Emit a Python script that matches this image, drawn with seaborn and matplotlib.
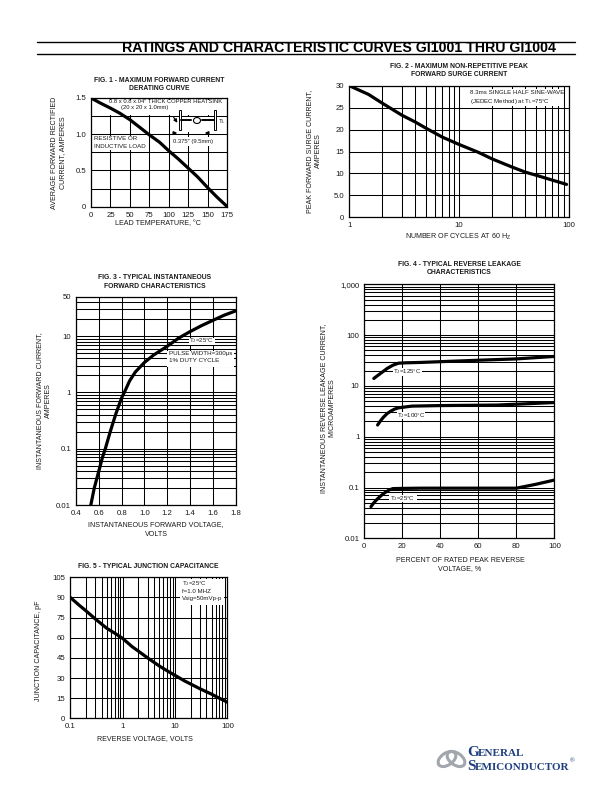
import matplotlib
matplotlib.use("Agg")
import matplotlib.pyplot as plt
import seaborn as sns
from matplotlib.patches import Ellipse, Rectangle
from matplotlib.ticker import LogLocator, NullFormatter

# fig 1
temp = [0, 12, 25, 37, 50, 62, 75, 88, 100, 112, 125, 137, 150, 162, 175]
amps_avg = [1.5, 1.43, 1.36, 1.29, 1.2, 1.1, 0.99, 0.89, 0.77, 0.66, 0.53, 0.41, 0.26, 0.13, 0]
# fig 2
cycles = [1, 1.5, 2, 3, 4, 5, 7, 10, 15, 20, 30, 40, 50, 70, 95]
amps_surge = [30, 28, 26, 23.3, 21.7, 20.3, 18.3, 16.6, 14.8, 13.3, 11.5, 10.3, 9.6, 8.5, 7.5]
# fig 3
volts = [0.53, 0.56, 0.6, 0.63, 0.657, 0.7, 0.75, 0.8, 0.824, 0.87, 0.92, 1.0, 1.08, 1.2, 1.3, 1.4, 1.5, 1.6, 1.7, 1.8]
amps_fwd = [0.01, 0.02, 0.04, 0.068, 0.1, 0.2, 0.42, 0.8, 1.0, 1.6, 2.3, 3.4, 4.6, 6.6, 9.2, 12, 15.3, 19, 23.5, 28]
# fig 4
pct_125 = [5, 8, 12, 15, 18, 22, 30, 60, 80, 100]
leak_125 = [14, 17, 22, 25.5, 28, 28.5, 29, 32, 34, 38]
pct_100 = [7, 8.5, 10, 12, 14, 16, 18, 25, 40, 70, 100]
leak_100 = [1.7, 2.05, 2.4, 2.85, 3.2, 3.5, 3.7, 4, 4.1, 4.2, 4.7]
pct_25 = [3.5, 5, 7, 9, 11, 13, 15, 20, 30, 80, 90, 100]
leak_25 = [0.042, 0.05, 0.06, 0.07, 0.08, 0.089, 0.095, 0.096, 0.097, 0.097, 0.115, 0.14]
# fig 5
rev_volts = [0.1, 0.15, 0.2, 0.3, 0.5, 0.7, 1, 1.5, 2, 3, 5, 7, 10, 15, 20, 30, 50, 70, 100]
cap = [90, 84, 80, 74, 67, 63.5, 59.5, 53.5, 50, 45, 39, 35.5, 32, 28, 25.5, 22, 18, 15, 12]

sns.set_theme(style="white")
plt.rcParams["font.family"] = ["Liberation Sans", "DejaVu Sans"]
plt.rcParams["mathtext.default"] = "regular"

W, H = 612, 792
INK = "#1a1a1a"
TICK = 5.6
LABEL = 5.1
NOTE = 4.4
fig = plt.figure(figsize=(W / 100, H / 100), dpi=100, facecolor="white")

# page overlay, in pixels
page = fig.add_axes([0, 0, 1, 1], zorder=5)
page.set_xlim(0, W)
page.set_ylim(H, 0)
page.axis("off")


def make_axes(left, top, right, bottom):
    ax = fig.add_axes([left / W, 1 - bottom / H, (right - left) / W, (bottom - top) / H])
    ax.set_axisbelow(True)
    for s in ax.spines.values():
        s.set_color("black")
        s.set_linewidth(0.9)
    ax.tick_params(which="both", length=0, labelsize=TICK, labelcolor=INK, pad=3.5)
    ax.grid(True, which="both", color="black", linewidth=0.75)
    return ax


def curve(ax, x, y):
    sns.lineplot(x=x, y=y, ax=ax, color="black", linewidth=2.3, zorder=4,
                 estimator=None, sort=False, legend=False, solid_joinstyle="round")
    ax.set_xlabel("")
    ax.set_ylabel("")


def white_box(ax, left, top, right, bottom):
    ax.add_artist(Rectangle((left, top), right - left, bottom - top, facecolor="white",
                            edgecolor="none", transform=page.transData, zorder=2))


def label(x, y, s, size=LABEL, weight="normal", rotation=0, ha="center", color=INK):
    page.text(x, y, s, fontsize=size, fontweight=weight, rotation=rotation,
              ha=ha, va="center", color=color)


def log_minor(axis):
    axis.set_minor_locator(LogLocator(base=10, subs=range(2, 10), numticks=20))
    axis.set_minor_formatter(NullFormatter())


# header
page.plot([37, 575], [41.5, 41.5], color="black", lw=1.0)
page.plot([37, 575], [54, 54], color="black", lw=1.0)
label(339, 47.5, "RATINGS AND CHARACTERISTIC CURVES GI1001 THRU GI1004", size=10.2, weight="bold", color="black")

# FIG 1
ax1 = make_axes(91, 98, 227.3, 206.7)
curve(ax1, temp, amps_avg)
ax1.set_xlim(0, 175)
ax1.set_ylim(0, 1.5)
ax1.set_xticks(range(0, 176, 25))
ax1.set_yticks([0, 0.25, 0.5, 0.75, 1.0, 1.25, 1.5])
ax1.set_yticklabels(["0", "", "0.5", "", "1.0", "", "1.5"])
white_box(ax1, 109, 99.5, 226, 114.5)
white_box(ax1, 173, 117, 226, 132)
white_box(ax1, 173, 136.5, 226, 146)
white_box(ax1, 93, 135.5, 146, 150)
label(159, 80, "FIG. 1 - MAXIMUM FORWARD CURRENT", size=4.9, weight="bold")
label(159, 88, "DERATING CURVE", size=4.9, weight="bold")
label(54, 153, "AVERAGE FORWARD RECTIFIED", rotation=90)
label(62.5, 153, "CURRENT, AMPERES", rotation=90)
label(158, 224, "LEAD TEMPERATURE, °C")
label(166, 101.5, "0.8 x 0.8 x.04\" THICK COPPER HEATSINK", size=4.2)
label(121, 107, "(20 x 20 x 1.0mm)", size=4.2, ha="left")
label(94, 139, "RESISTIVE OR", size=4.45, ha="left")
label(94, 147, "INDUCTIVE LOAD", size=4.45, ha="left")
label(173, 141.5, "0.375\" (9.5mm)", size=4.2, ha="left")
label(226, 122, "T$_L$", size=NOTE, ha="right")
# mounting sketch
for px in (180, 215):
    page.add_patch(Rectangle((px - 1, 110), 2, 20, facecolor="white", edgecolor="black", lw=0.7))
page.plot([181, 191], [120, 120], color="black", lw=1.4)
page.plot([202, 214], [120, 120], color="black", lw=1.4)
page.add_patch(Ellipse((197, 120.5), 7, 6, facecolor="white", edgecolor="black", lw=0.8))
page.annotate("", xy=(179, 125), xytext=(172, 115), arrowprops=dict(arrowstyle="-|>", color="black", lw=0.8, mutation_scale=5))
page.annotate("", xy=(180, 133), xytext=(170, 133), arrowprops=dict(arrowstyle="-|>", color="black", lw=0.8, mutation_scale=5))
page.annotate("", xy=(202, 133), xytext=(212, 133), arrowprops=dict(arrowstyle="-|>", color="black", lw=0.8, mutation_scale=5))

# FIG 2
ax2 = make_axes(349.3, 85.7, 569, 217.3)
curve(ax2, cycles, amps_surge)
ax2.set_xscale("log")
ax2.set_xlim(1, 100)
ax2.set_ylim(0, 30)
ax2.set_xticks([1, 10, 100])
ax2.set_xticklabels(["1", "10", "100"])
log_minor(ax2.xaxis)
ax2.set_yticks(range(0, 31, 5))
ax2.set_yticklabels(["0", "5.0", "10", "15", "20", "25", "30"])
white_box(ax2, 467, 88.5, 563, 106)
label(459, 67, "FIG. 2 - MAXIMUM NON-REPETITIVE PEAK", size=4.9, weight="bold")
label(459, 74.5, "FORWARD SURGE CURRENT", size=4.9, weight="bold")
label(310, 151, "PEAK FORWARD SURGE CURRENT,", rotation=90)
label(318.5, 151, "AMPERES", rotation=90)
label(458, 237, "NUMBER OF CYCLES AT 60 H$_Z$")
label(470, 93, "8.3ms SINGLE HALF SINE-WAVE", size=NOTE, ha="left")
label(470, 101, "(JEDEC Method) at T$_L$=75°C", size=NOTE, ha="left")

# FIG 3
ax3 = make_axes(76, 296.7, 235.7, 505)
curve(ax3, volts, amps_fwd)
ax3.set_yscale("log")
ax3.set_xlim(0.4, 1.8)
ax3.set_ylim(0.01, 50)
ax3.set_xticks([0.4, 0.6, 0.8, 1.0, 1.2, 1.4, 1.6, 1.8])
ax3.set_xticklabels(["0.4", "0.6", "0.8", "1.0", "1.2", "1.4", "1.6", "1.8"])
ax3.set_yticks([0.01, 0.1, 1, 10, 50])
ax3.set_yticklabels(["0.01", "0.1", "1", "10", "50"])
log_minor(ax3.yaxis)
white_box(ax3, 189, 338, 215, 344.5)
white_box(ax3, 167, 351, 234, 367)
label(155, 277.5, "FIG. 3 - TYPICAL INSTANTANEOUS", size=4.9, weight="bold")
label(155, 286, "FORWARD CHARACTERISTICS", size=4.9, weight="bold")
label(40, 401, "INSTANTANEOUS FORWARD CURRENT,", rotation=90)
label(48.5, 401, "AMPERES", rotation=90)
label(156, 525, "INSTANTANEOUS FORWARD VOLTAGE,")
label(156, 534, "VOLTS")
label(202, 341, "T$_J$=25°C", size=NOTE)
label(169, 354, "PULSE WIDTH=300µs", size=4.5, ha="left")
label(169, 361, "1% DUTY CYCLE", size=4.5, ha="left")

# FIG 4
ax4 = make_axes(364.3, 284.3, 554.3, 538.3)
curve(ax4, pct_125, leak_125)
curve(ax4, pct_100, leak_100)
curve(ax4, pct_25, leak_25)
ax4.set_yscale("log")
ax4.set_xlim(0, 100)
ax4.set_ylim(0.01, 1000)
ax4.set_xticks(range(0, 101, 20))
ax4.set_xticklabels(["0", "20", "40", "60", "80", "100"])
ax4.set_yticks([0.01, 0.1, 1, 10, 100, 1000])
ax4.set_yticklabels(["0.01", "0.1", "1", "10", "100", "1,000"])
log_minor(ax4.yaxis)
white_box(ax4, 393, 368, 422, 376)
white_box(ax4, 397, 412, 425, 419)
white_box(ax4, 389, 495, 417, 502)
label(459.5, 265, "FIG. 4 - TYPICAL REVERSE LEAKAGE", size=4.9, weight="bold")
label(459.5, 272.5, "CHARACTERISTICS", size=4.9, weight="bold")
label(323.5, 408, "INSTANTANEOUS REVERSE LEAKAGE CURRENT,", rotation=90)
label(332, 408, "MICROAMPERES", rotation=90)
label(460, 560, "PERCENT OF RATED PEAK REVERSE")
label(460, 568.5, "VOLTAGE, %")
label(407.5, 372, "T$_J$=125°C", size=NOTE)
label(411, 415.5, "T$_J$=100°C", size=NOTE)
label(402.5, 498.5, "T$_J$=25°C", size=NOTE)

# FIG 5
ax5 = make_axes(70.3, 577.3, 227.3, 718.3)
curve(ax5, rev_volts, cap)
ax5.set_xscale("log")
ax5.set_xlim(0.1, 100)
ax5.set_ylim(0, 105)
ax5.set_xticks([0.1, 1, 10, 100])
ax5.set_xticklabels(["0.1", "1", "10", "100"])
log_minor(ax5.xaxis)
ax5.set_yticks(range(0, 106, 15))
ax5.set_yticklabels([str(v) for v in range(0, 106, 15)])
white_box(ax5, 180, 579, 224, 605)
label(148, 566, "FIG. 5 - TYPICAL JUNCTION CAPACITANCE", size=4.9, weight="bold")
label(39, 651, "JUNCTION CAPACITANCE, pF", rotation=90)
label(145, 738.5, "REVERSE VOLTAGE, VOLTS")
label(182, 584, "T$_J$=25°C", size=NOTE, ha="left")
label(182, 591.5, "f=1.0 MHZ", size=NOTE, ha="left")
label(182, 598.5, "Vsig=50mVp-p", size=NOTE, ha="left")

# logo
NAVY = "#1f3f7f"
for cx, ang in ((447, -35), (456, 35)):
    page.add_patch(Ellipse((cx, 759), 20, 12, angle=ang, facecolor="none", edgecolor="#a2a7ad", lw=2.2))
page.text(467, 752, "G", fontsize=11, fontweight="bold", family="Liberation Serif", color=NAVY, ha="left", va="center")
page.text(477.5, 753, "ENERAL", fontsize=8.0, fontweight="bold", family="Liberation Serif", color=NAVY, ha="left", va="center")
page.text(467, 766, "S", fontsize=11, fontweight="bold", family="Liberation Serif", color=NAVY, ha="left", va="center")
page.text(475, 767, "EMICONDUCTOR", fontsize=8.0, fontweight="bold", family="Liberation Serif", color=NAVY, ha="left", va="center")
page.text(569.5, 761, "®", fontsize=4.5, color=NAVY, ha="left", va="center")

fig.savefig("out.png", dpi=100, facecolor="white")
